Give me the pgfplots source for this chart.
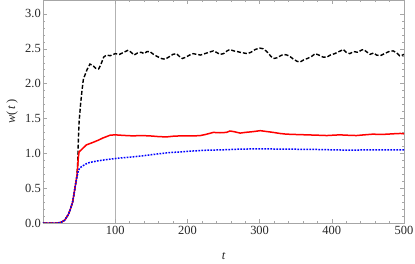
\documentclass[border=0pt]{standalone}
\usepackage{fontspec}
\setmainfont{Liberation Serif}
\usepackage{pgfplots}
\pgfplotsset{compat=1.18}
\begin{document}
\begin{tikzpicture}[x=1bp,y=1bp]
\begin{axis}[name=ax,
  scale only axis, width=361bp, height=223bp,
  xmin=0, xmax=500, ymin=0, ymax=3.2,
  xtick={100,200,300,400,500}, ytick={0,0.5,1,1.5,2,2.5,3},
  minor x tick num=4, minor y tick num=4,
  tick align=inside, major tick length=4bp, minor tick length=2bp,
  axis line style={gray!70}, every tick/.style={gray!70},
  yticklabel style={inner sep=2bp,/pgf/number format/.cd,fixed,fixed zerofill,precision=1},
  /pgf/number format/assume math mode=true,
  ticklabel style={font=\fontsize{12.5}{14}\selectfont, text=black!85},
  xticklabel style={inner sep=3bp},
  xlabel={\itshape t}, ylabel={{\itshape w}(\,{\itshape t}\,)},
  label style={font=\fontsize{12.5}{14}\selectfont, text=black!85},
  xlabel style={yshift=-11bp}, ylabel style={yshift=2bp},
  extra x ticks={100}, extra x tick labels={},
  extra x tick style={grid=major, major grid style={gray!60, line width=0.5bp}},
  clip=true,
]
\addplot[black, line width=1.4bp, dash pattern=on 4bp off 2bp] coordinates {
(0,0)(10,0)(20,0)(25,0.01)(30,0.04)(35,0.12)(38,0.2)(41,0.3)(43,0.42)(45,0.55)(47,0.68)(48,0.85)(49,1.2)(50,1.45)(52,1.7)(54,1.9)(56,2.07)(58,2.12)(61,2.2)(65,2.28)(69,2.26)(73,2.22)(77,2.21)(80,2.27)(84,2.38)(88,2.41)(93,2.4)(100,2.43)(106,2.42)(112,2.45)(118,2.48)(122,2.45)(126,2.41)(131,2.44)(136,2.45)(140,2.43)(144,2.46)(148,2.46)(153,2.42)(158,2.39)(164,2.36)(169,2.35)(174,2.38)(180,2.42)(185,2.43)(189,2.39)(193,2.36)(198,2.38)(203,2.41)(208,2.43)(213,2.42)(218,2.41)(224,2.43)(230,2.45)(236,2.47)(240,2.45)(245,2.42)(250,2.43)(255,2.47)(259,2.49)(264,2.47)(269,2.46)(273,2.45)(278,2.44)(283,2.43)(288,2.45)(294,2.49)(300,2.51)(305,2.5)(310,2.46)(315,2.4)(319,2.36)(324,2.37)(329,2.4)(333,2.42)(338,2.41)(342,2.39)(347,2.35)(352,2.32)(356,2.31)(361,2.34)(366,2.36)(372,2.39)(377,2.43)(382,2.41)(388,2.38)(393,2.38)(398,2.41)(404,2.43)(410,2.46)(416,2.49)(420,2.45)(425,2.43)(430,2.46)(436,2.45)(441,2.48)(444,2.49)(449,2.45)(453,2.42)(458,2.44)(462,2.41)(467,2.40)(473,2.43)(479,2.46)(485,2.47)(490,2.44)(494,2.40)(498,2.41)(500,2.42)
};
\addplot[red, line width=1.5bp] coordinates {
(0,0)(20,0)(25,0.01)(30,0.04)(35,0.12)(38,0.2)(41,0.3)(43,0.42)(45,0.55)(47,0.68)(48,0.8)(49,0.95)(50,1.02)(53,1.05)(56,1.08)(60,1.12)(65,1.14)(70,1.16)(77,1.19)(83,1.22)(88,1.24)(93,1.26)(100,1.265)(107,1.26)(115,1.255)(125,1.25)(135,1.255)(148,1.25)(160,1.24)(171,1.235)(180,1.245)(190,1.25)(200,1.25)(210,1.25)(218,1.255)(225,1.27)(236,1.3)(245,1.295)(254,1.3)(259,1.32)(265,1.31)(273,1.29)(280,1.3)(290,1.31)(301,1.325)(308,1.315)(319,1.3)(328,1.285)(337,1.275)(350,1.27)(365,1.265)(380,1.26)(393,1.255)(402,1.26)(411,1.265)(420,1.26)(434,1.255)(445,1.265)(457,1.275)(468,1.27)(477,1.275)(485,1.28)(495,1.285)(500,1.28)
};
\addplot[blue, line width=1.5bp, dash pattern=on 1.7bp off 1.3bp] coordinates {
(0,0)(20,0)(25,0.01)(30,0.04)(35,0.12)(38,0.2)(41,0.3)(43,0.42)(45,0.55)(47,0.66)(49,0.75)(51,0.79)(55,0.82)(60,0.85)(65,0.87)(75,0.89)(88,0.91)(100,0.925)(120,0.945)(135,0.96)(150,0.98)(162,0.995)(175,1.01)(190,1.02)(210,1.035)(227,1.045)(250,1.05)(273,1.06)(301,1.065)(330,1.06)(354,1.058)(380,1.055)(400,1.05)(425,1.045)(450,1.05)(475,1.05)(500,1.05)
};
\end{axis}
\path (ax.south west) ++(-43bp,-41bp) coordinate (bbA);
\path (ax.north east) ++(11bp,0bp) coordinate (bbB);
\pgfresetboundingbox
\path[use as bounding box] (bbA) rectangle (bbB);
\end{tikzpicture}
\end{document}
